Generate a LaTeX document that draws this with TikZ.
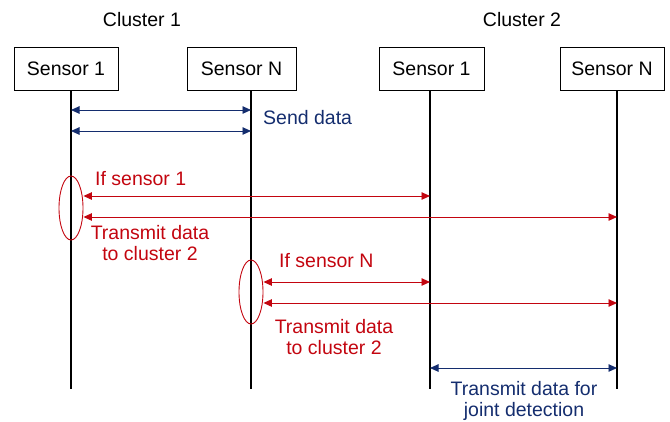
\documentclass[tikz,border=0pt]{standalone}
\usepackage{fontspec}
\setmainfont{Liberation Sans}
\usetikzlibrary{arrows.meta,shapes.geometric}
\definecolor{navy}{RGB}{20,45,110}
\definecolor{dred}{RGB}{195,5,15}
\begin{document}
\begin{tikzpicture}[x=1pt,y=-1pt,
  every node/.style={font=\fontsize{19.5}{21.5}\selectfont, inner sep=0pt},
  sbox/.style={draw, line width=0.9pt, minimum width=104pt, minimum height=43pt, anchor=center},
  life/.style={line width=1.1pt},
  barr/.style={draw=navy, line width=0.9pt, {Triangle[length=8.5pt,width=7.5pt]}-{Triangle[length=8.5pt,width=7.5pt]}, navy},
  rarr/.style={draw=dred, line width=0.9pt, {Triangle[length=8.5pt,width=7.5pt]}-{Triangle[length=8.5pt,width=7.5pt]}, dred},
  loop/.style={draw=dred, line width=0.9pt, ellipse, minimum width=24pt, minimum height=64pt, inner sep=0pt},
  btxt/.style={text=navy, align=center},
  rtxt/.style={text=dred, align=center}]
\useasboundingbox (0,0) rectangle (670,421);
% headers
\node (c1) at (142,20) {Cluster 1};
\node (c2) at (522,20) {Cluster 2};
% sensors
\node[sbox] (a1) at (66,68.5) {Sensor 1};
\node[sbox, minimum width=109pt] (aN) at (241.5,68.5) {Sensor N};
\node[sbox, minimum width=105pt] (b1) at (431.5,68.5) {Sensor 1};
\node[sbox] (bN) at (612,68.5) {Sensor N};
% lifeline ends
\coordinate (la) at (71,389);
\coordinate (lb) at (251,389);
\coordinate (lc) at (430,389);
\coordinate (ld) at (617,389);
\draw[life] (a1.south -| la) -- (la);
\draw[life] (aN.south -| lb) -- (lb);
\draw[life] (b1.south -| lc) -- (lc);
\draw[life] (bN.south -| ld) -- (ld);
% send data
\draw[barr] (71,110) -- (251,110);
\draw[barr] (71,131) -- (251,131);
\node[btxt, anchor=west] (sd) at (263,118) {Send data};
% sensor 1 branch
\node[loop] (e1) at (71,208) {};
\node[rtxt, anchor=west] (is1) at (95,179) {If sensor 1};
\draw[rarr] (e1.east |- 0,196) -- (430,196);
\draw[rarr] (e1.east |- 0,217) -- (617,217);
\node[rtxt] (t1) at (150,243) {Transmit data\\to cluster 2};
% sensor N branch
\node[loop] (e2) at (251,292) {};
\node[rtxt, anchor=west] (isN) at (279,261) {If sensor N};
\draw[rarr] (e2.east |- 0,282) -- (430,282);
\draw[rarr] (e2.east |- 0,303) -- (617,303);
\node[rtxt] (t2) at (334,337) {Transmit data\\to cluster 2};
% joint detection
\draw[barr] (430,368) -- (617,368);
\node[btxt] (jd) at (524,401) {Transmit data for\\joint detection};
\end{tikzpicture}
\end{document}
